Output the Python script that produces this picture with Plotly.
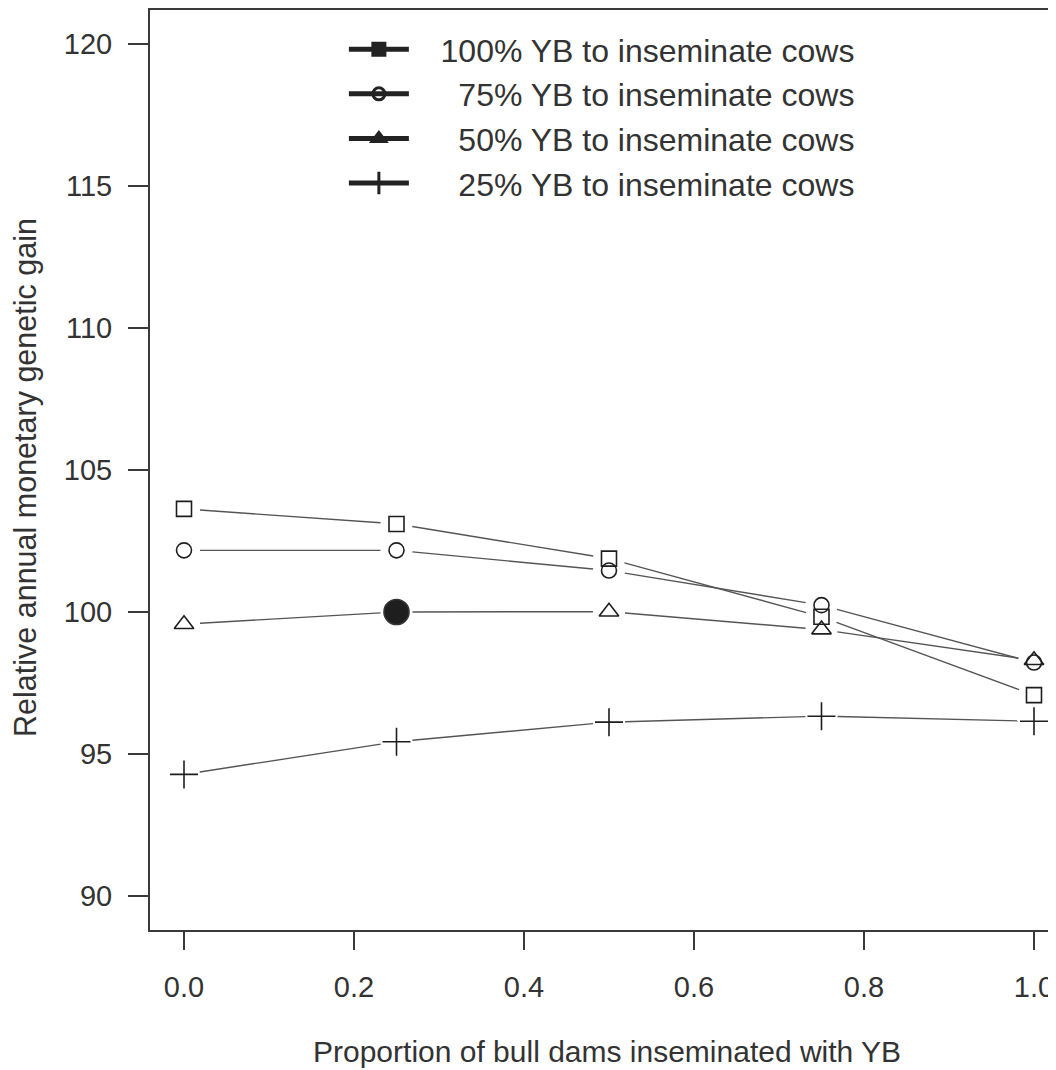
import math
import plotly.graph_objects as go

# ---- data ----
proportion = [0.0, 0.25, 0.5, 0.75, 1.0]
yb100 = [103.63, 103.10, 101.88, 99.83, 97.07]
yb75 = [102.17, 102.17, 101.46, 100.24, 98.22]
yb50 = [99.57, 100.0, 100.01, 99.38, 98.30]
yb25 = [94.28, 95.43, 96.12, 96.33, 96.15]
NB = "\u00a0"
series_names = [
    NB * 3 + "100% YB to inseminate cows",
    NB * 5 + "75% YB to inseminate cows",
    NB * 5 + "50% YB to inseminate cows",
    NB * 5 + "25% YB to inseminate cows",
]
x_ticks = [0.0, 0.2, 0.4, 0.6, 0.8, 1.0]
y_ticks = [90, 95, 100, 105, 110, 115, 120]
x_title = "Proportion of bull dams inseminated with YB"
y_title = "Relative annual monetary genetic gain"

# ---- layout geometry (page has an 8px body margin) ----
W, H = 1048, 1062
ML, MR, MT, MB = 142, 0, 2, 140
xr = [-0.04, 1.0259]
yr = [88.8, 121.2]
px_x = (W - ML - MR) / (xr[1] - xr[0])
px_y = (H - MT - MB) / (yr[1] - yr[0])

TXT = "#333333"
LINE = "#3a3a3a"
FONT = "Liberation Sans, Arial, sans-serif"


def gapped(xs, ys, gap=16):
    """Segments between points, shortened near markers (R type='b')."""
    gx, gy = [], []
    for i in range(len(xs) - 1):
        x0, y0, x1, y1 = xs[i], ys[i], xs[i + 1], ys[i + 1]
        dx = (x1 - x0) * px_x
        dy = (y1 - y0) * px_y
        L = math.hypot(dx, dy)
        if L <= 2 * gap:
            continue
        ux, uy = dx / L, dy / L
        gx += [x0 + ux * gap / px_x, x1 - ux * gap / px_x, None]
        gy += [y0 + uy * gap / px_y, y1 - uy * gap / px_y, None]
    return gx, gy


fig = go.Figure()

all_series = [yb100, yb75, yb50, yb25]
plot_symbols = [
    ["square-open"] * 5,
    ["circle-open"] * 5,
    ["triangle-up-open", "circle", "triangle-up-open", "triangle-up-open", "triangle-up-open"],
    ["cross-thin-open"] * 5,
]
plot_sizes = [
    [15] * 5,
    [15] * 5,
    [17, 25, 17, 17, 17],
    [20] * 5,
]

for ys, syms, sizes in zip(all_series, plot_symbols, plot_sizes):
    gx, gy = gapped(proportion, ys)
    fig.add_trace(go.Scatter(
        x=gx, y=gy, mode="lines", showlegend=False, hoverinfo="skip",
        line=dict(color="#555555", width=1.4),
    ))
    fig.add_trace(go.Scatter(
        x=proportion, y=ys, mode="markers", showlegend=False,
        marker=dict(symbol=syms, size=sizes, color="#1e1e1e", opacity=1,
                    line=dict(color="#333333", width=1.6)),
    ))

# legend-only traces (thick style as in reference legend)
leg_symbols = ["square", "circle-open", "triangle-up", "cross-thin-open"]
leg_sizes = [12, 12, 12, 18]
for name, sym, sz in zip(series_names, leg_symbols, leg_sizes):
    fig.add_trace(go.Scatter(
        x=[None], y=[None], mode="lines+markers", name=name,
        line=dict(color="#222222", width=5),
        marker=dict(symbol=sym, size=sz, color="#222222", opacity=1,
                    line=dict(color="#222222", width=3)),
    ))

fig.update_layout(
    width=W, height=H,
    margin=dict(l=ML, r=MR, t=MT, b=MB, pad=0),
    paper_bgcolor="white", plot_bgcolor="white",
    font=dict(family=FONT, color=TXT, size=29),
    showlegend=True,
    legend=dict(
        x=0.214, y=0.987, xanchor="left", yanchor="top",
        bgcolor="rgba(0,0,0,0)", font=dict(size=32, color=TXT),
        itemwidth=60, tracegroupgap=0,
    ),
    xaxis=dict(
        range=xr, tickvals=x_ticks, tickformat=".1f",
        ticks="outside", ticklen=18, tickwidth=2, tickcolor=LINE,
        showline=True, linecolor=LINE, linewidth=2, mirror=True,
        showgrid=False, zeroline=False, ticklabelstandoff=12,
        tickfont=dict(size=29, color=TXT),
    ),
    yaxis=dict(
        range=yr, tickvals=y_ticks,
        ticks="outside", ticklen=20, tickwidth=2, tickcolor=LINE,
        showline=True, linecolor=LINE, linewidth=2, mirror=False,
        showgrid=False, zeroline=False, ticklabelstandoff=10,
        tickfont=dict(size=29, color=TXT),
    ),
    annotations=[
        dict(
            text=x_title, xref="paper", yref="paper", x=0.5044, y=-0.1326,
            xanchor="center", yanchor="middle", showarrow=False,
            font=dict(size=30, color=TXT),
        ),
        dict(
            text=y_title, xref="paper", yref="paper", x=-0.1369, y=0.4924,
            xanchor="center", yanchor="middle", showarrow=False, textangle=-90,
            font=dict(size=30.5, color=TXT),
        ),
    ],
)

fig.write_html("out.html")
